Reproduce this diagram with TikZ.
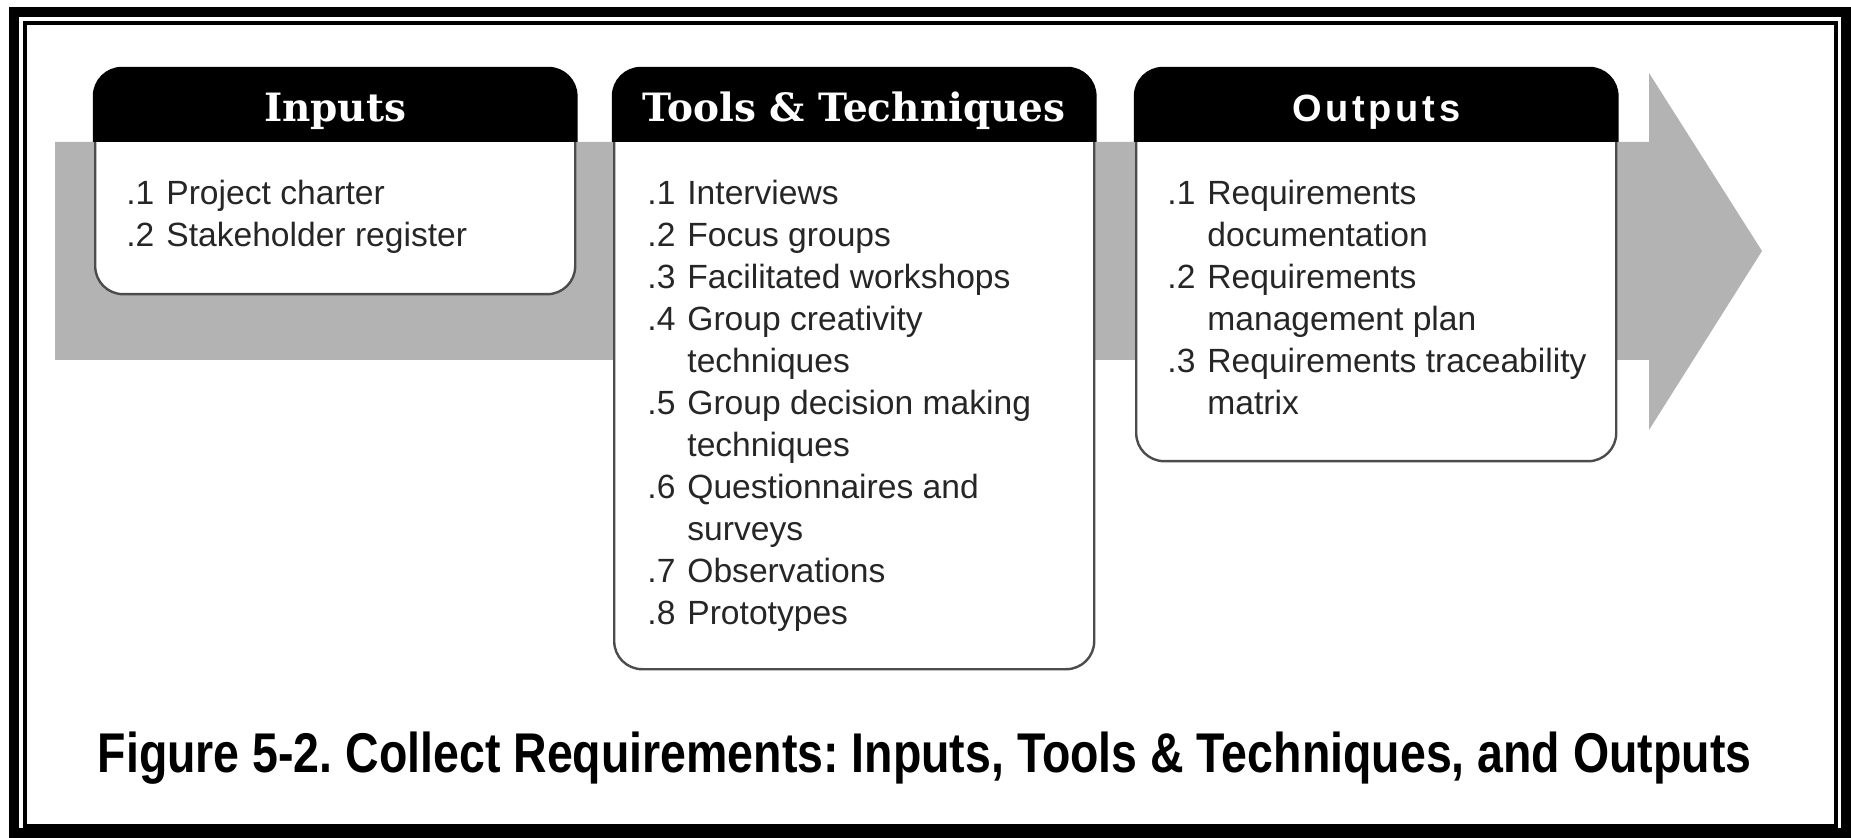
\documentclass[tikz,border=0pt]{standalone}
\usepackage{fontspec}
\setmainfont{Liberation Sans}
\newfontfamily\headfont{DejaVu Serif}
\newfontfamily\outfont[LetterSpace=10]{Liberation Sans}
\newfontfamily\capfont[FakeStretch=0.83]{Liberation Sans}
\usetikzlibrary{positioning}
\definecolor{flowgray}{RGB}{179,179,179}
\frenchspacing

\begin{document}
\begin{tikzpicture}[x=0.5pt, y=-0.5pt, node distance=20pt,
  stage/.style = {draw=black!70, line width=1.2pt, fill=white, rounded corners=14pt,
                  minimum width=240pt, inner sep=0pt, anchor=north west},
  head/.style = {text=white, anchor=base, inner sep=0pt},
  item/.style = {anchor=base west, inner sep=0pt, text=black!85,
                 font=\fontsize{16.8}{21}\selectfont}]
\useasboundingbox (0,0) rectangle (1851,838);
% double frame
\draw[line width=5pt] (14,12) rectangle (1846,833);
\draw[line width=1.75pt] (25,23) rectangle (1836,826);
% grey flow arrow behind the boxes
\fill[flowgray] (55,142) -- (1649,142) -- (1649,73) -- (1762,251) -- (1649,430)
  -- (1649,360) -- (55,360) -- cycle;
% the three boxes
\node[stage, minimum height=112.5pt] (inputs) at (94,68) {};
\node[stage, minimum height=300pt, right=18.3pt of inputs.north east, anchor=north west] (tools) {};
\node[stage, minimum height=196pt, right=19.8pt of tools.north east, anchor=north west] (outputs) {};
% black title bars
\foreach \b in {inputs,tools,outputs} {
  \begin{scope}
    \clip ([xshift=-2pt,yshift=2pt]\b.north west) rectangle ([xshift=2pt,yshift=-37pt]\b.north east);
    \filldraw[black, line width=1.2pt, rounded corners=14pt] (\b.north west) rectangle (\b.south east);
  \end{scope}
}
\node[head, font=\headfont\bfseries\fontsize{19.5}{21}\selectfont] (inputs-title)
  at ([yshift=-27pt]inputs.north) {Inputs};
\node[head, font=\headfont\bfseries\fontsize{19.5}{21}\selectfont] (tools-title)
  at ([yshift=-27pt]tools.north) {Tools \& Techniques};
\node[head, font=\outfont\bfseries\fontsize{19}{20}\selectfont] (outputs-title)
  at ([yshift=-27pt]outputs.north) {Outputs};
% lists
\node[item] (inputs-list) at ([xshift=16pt,yshift=-68.5pt]inputs.north west)
  {\begin{tabular}[t]{@{}p{20pt}@{}l@{}}
   .1 & Project charter\\
   .2 & Stakeholder register
   \end{tabular}};
\node[item] (tools-list) at ([xshift=17pt,yshift=-68.5pt]tools.north west)
  {\begin{tabular}[t]{@{}p{20pt}@{}l@{}}
   .1 & Interviews\\
   .2 & Focus groups\\
   .3 & Facilitated workshops\\
   .4 & Group creativity\\
      & techniques\\
   .5 & Group decision making\\
      & techniques\\
   .6 & Questionnaires and\\
      & surveys\\
   .7 & Observations\\
   .8 & Prototypes
   \end{tabular}};
\node[item] (outputs-list) at ([xshift=16pt,yshift=-68.5pt]outputs.north west)
  {\begin{tabular}[t]{@{}p{20pt}@{}l@{}}
   .1 & Requirements\\
      & documentation\\
   .2 & Requirements\\
      & management plan\\
   .3 & Requirements traceability\\
      & matrix
   \end{tabular}};
% caption
\node[anchor=base, inner sep=0pt, font=\capfont\bfseries\fontsize{28}{30}\selectfont] (caption)
  at (924.5,772) {Figure 5-2. Collect Requirements: Inputs, Tools \& Techniques, and Outputs};
\end{tikzpicture}
\end{document}
